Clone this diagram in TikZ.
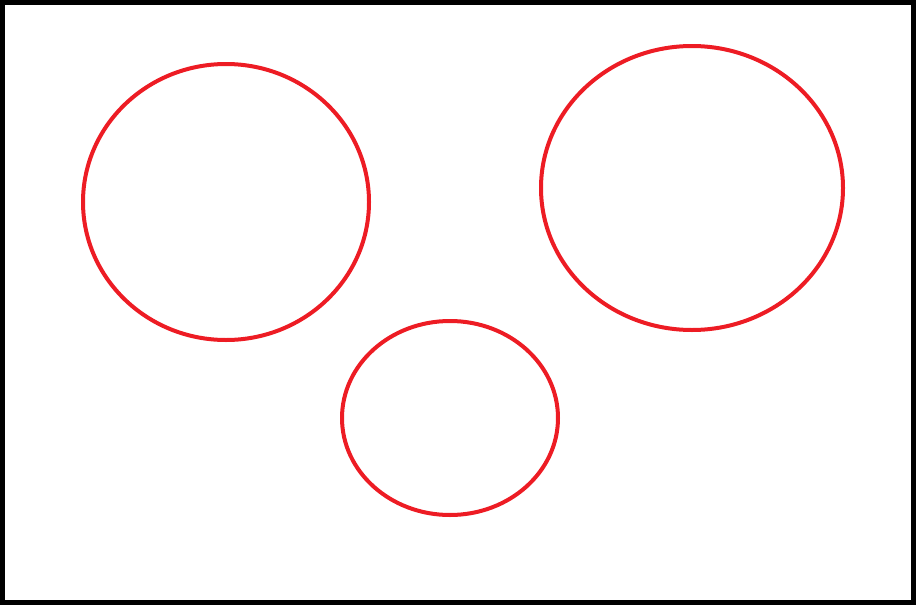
\documentclass[tikz,border=0pt]{standalone}
\usepackage{xcolor}
\usepackage{tikz}
\definecolor{paintred}{RGB}{237,28,36}

\begin{document}
\begin{tikzpicture}[
        x=1pt, y=-1pt,
        frame/.style={draw=black, line width=5pt},
        blob/.style={draw=paintred, line width=4pt}
    ]
        \useasboundingbox (0,0) rectangle (916,605);
        % Frame
        \draw[frame] (2.5,2.5) rectangle (913.5,602.5);

        % Ellipses
        \draw[blob] (226,202) ellipse [x radius=143, y radius=138];
        \draw[blob] (692,188) ellipse [x radius=151, y radius=142];
        \draw[blob] (450,418) ellipse [x radius=108, y radius=97];
    \end{tikzpicture}
\end{document}
